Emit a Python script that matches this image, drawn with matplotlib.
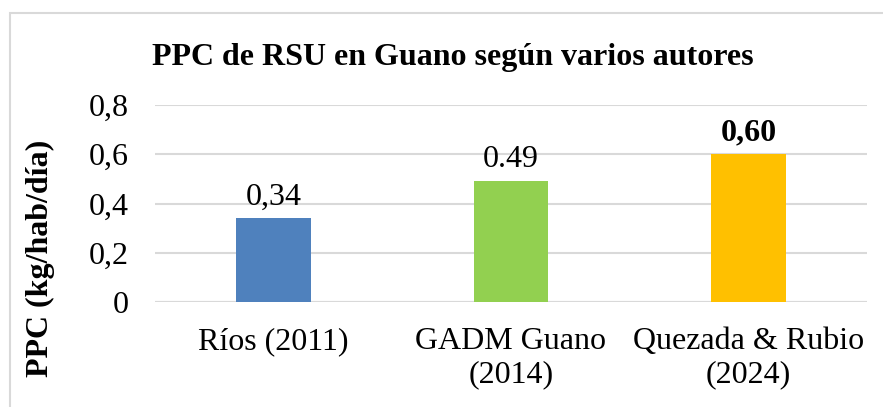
import matplotlib
matplotlib.use("Agg")
import matplotlib.pyplot as plt
from matplotlib.patches import Rectangle

categories = ["Ríos (2011)", "GADM Guano\n(2014)", "Quezada & Rubio\n(2024)"]
values = [0.34, 0.49, 0.60]
value_labels = ["0,34", "0.49", "0,60"]
label_bold = [False, False, True]
colors = ["#4F81BD", "#92D050", "#FFC000"]
yticks = [0, 0.2, 0.4, 0.6, 0.8]
ytick_labels = ["0", "0,2", "0,4", "0,6", "0,8"]

W, H = 883, 407
fig = plt.figure(figsize=(W / 100, H / 100), dpi=100)
plt.rcParams['font.family'] = ['Liberation Serif', 'DejaVu Serif']

# outer chart border
fig.patches.append(Rectangle((10 / W, -0.1), 1.2, 1 - 13 / H + 0.1, transform=fig.transFigure,
                             fill=False, edgecolor="#D9D9D9", linewidth=1.5))

x0, x1 = 155, 867
ytop, ybot = 105, 302
ax = fig.add_axes([x0 / W, 1 - ybot / H, (x1 - x0) / W, (ybot - ytop) / H])
ax.set_ylim(0, 0.8)
ax.set_xlim(-0.5, 2.5)
pos = list(range(len(categories)))
ax.bar(pos, values, width=0.316, color=colors, zorder=3)
for p, v, lab, b in zip(pos, values, value_labels, label_bold):
    ax.annotate(lab, (p, v), xytext=(0, 5), textcoords="offset points", ha="center", va="bottom",
                fontsize=23, fontweight="bold" if b else "normal")
ax.set_yticks(yticks)
ax.set_yticklabels(ytick_labels, fontsize=23)
ax.set_xticks(pos)
ax.set_xticklabels(categories, fontsize=23, linespacing=1.2)
ax.tick_params(axis="y", length=0, pad=19)
ax.tick_params(axis="x", length=0, pad=18)
ax.grid(axis="y", color="#D9D9D9", linewidth=1.5, zorder=0)
for s in ax.spines.values():
    s.set_visible(False)
ax.axhline(0, color="#D9D9D9", linewidth=1.5, zorder=1)

fig.text(453 / W, 1 - 57 / H, "PPC de RSU en Guano según varios autores", ha="center", va="center",
         fontsize=23, fontweight="bold")
fig.text(40 / W, 1 - 258 / H, "PPC (kg/hab/día)", rotation=90, ha="center", va="center",
         fontsize=23, fontweight="bold")

fig.savefig("out.png", dpi=100)
